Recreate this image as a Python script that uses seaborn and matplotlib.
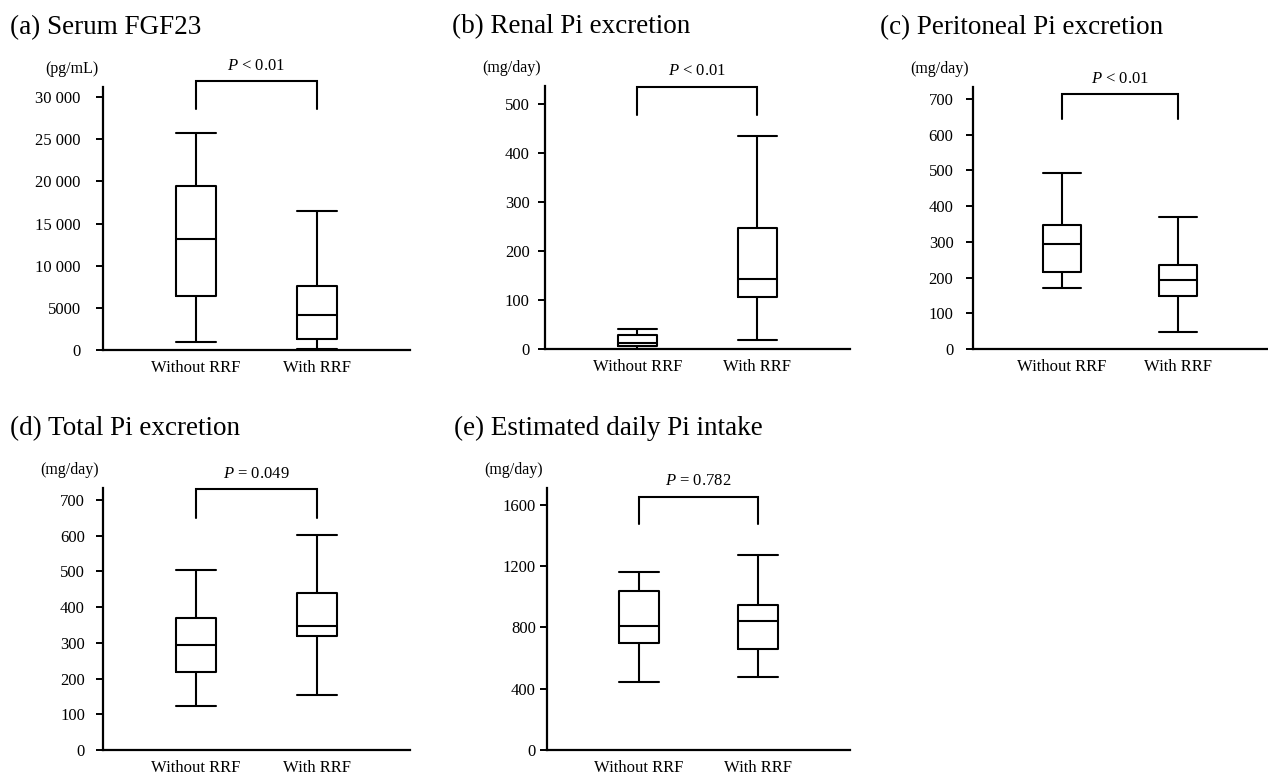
"""
Pi balance in PD patients, with vs without residual renal function (RRF).
Five box plots drawn from the five-number summaries read off the figure.
"""

import numpy as np
import pandas as pd
import matplotlib
matplotlib.use("Agg")
import matplotlib.pyplot as plt
import seaborn as sns

# -------------------------------
# 1. DATA (min, Q1, median, Q3, max)
# -------------------------------
groups = ["Without RRF", "With RRF"]

fgf23_without = [1000, 6400, 13200, 19500, 25700]
fgf23_with = [150, 1300, 4200, 7600, 16500]

renal_without = [1, 6, 12, 30, 41]
renal_with = [19, 106, 143, 248, 435]

perit_without = [171, 217, 295, 346, 492]
perit_with = [47, 149, 194, 236, 371]

total_without = [122, 218, 293, 371, 505]
total_with = [154, 319, 346, 439, 602]

intake_without = [442, 695, 807, 1040, 1162]
intake_with = [475, 657, 840, 949, 1274]

titles = ["(a) Serum FGF23", "(b) Renal Pi excretion", "(c) Peritoneal Pi excretion",
          "(d) Total Pi excretion", "(e) Estimated daily Pi intake"]
units = ["(pg/mL)", "(mg/day)", "(mg/day)", "(mg/day)", "(mg/day)"]
p_labels = [r"$P$ < 0.01", r"$P$ < 0.01", r"$P$ < 0.01", r"$P$ = 0.049", r"$P$ = 0.782"]

fgf23_ticks = [0, 5000, 10000, 15000, 20000, 25000, 30000]
fgf23_ticklabels = ["0", "5000", "10 000", "15 000", "20 000", "25 000", "30 000"]
renal_ticks = [0, 100, 200, 300, 400, 500]
perit_ticks = [0, 100, 200, 300, 400, 500, 600, 700]
total_ticks = [0, 100, 200, 300, 400, 500, 600, 700]
intake_ticks = [0, 400, 800, 1200, 1600]

# bracket (top, bottom of the drops) and y-axis top
brackets = [(31900, 28600), (536, 478), (713, 644), (730, 650), (1653, 1475)]
ymax = [31200, 537, 733, 734, 1710]

# -------------------------------
# 2. STYLE
# -------------------------------
sns.set_style("ticks")
plt.rcParams["font.family"] = ["Liberation Serif", "DejaVu Serif"]
plt.rcParams["mathtext.fontset"] = "custom"
plt.rcParams["mathtext.rm"] = "Liberation Serif"
plt.rcParams["mathtext.it"] = "Liberation Serif:italic"
for key in ["text.color", "axes.labelcolor", "xtick.color", "ytick.color", "axes.edgecolor"]:
    plt.rcParams[key] = "black"

fig = plt.figure(figsize=(12.68, 7.80), dpi=100)

# axes rectangles [left, bottom, width, height] in figure fraction
rects = [
    [0.0812, 0.5513, 0.2421, 0.3372],
    [0.4298, 0.5522, 0.2405, 0.3375],
    [0.7673, 0.5522, 0.2319, 0.3363],
    [0.0812, 0.0385, 0.2421, 0.3359],
    [0.4314, 0.0385, 0.2389, 0.3359],
]
label_pads = [11, 6, 9, 8, 3]

panels = [
    (fgf23_without, fgf23_with, fgf23_ticks, fgf23_ticklabels),
    (renal_without, renal_with, renal_ticks, [str(t) for t in renal_ticks]),
    (perit_without, perit_with, perit_ticks, [str(t) for t in perit_ticks]),
    (total_without, total_with, total_ticks, [str(t) for t in total_ticks]),
    (intake_without, intake_with, intake_ticks, [str(t) for t in intake_ticks]),
]

BOX_W = 0.33

for i, (without, with_, ticks, ticklabels) in enumerate(panels):
    ax = fig.add_axes(rects[i])
    df = pd.DataFrame({
        "group": [groups[0]] * len(without) + [groups[1]] * len(with_),
        "value": without + with_,
    })
    sns.boxplot(data=df, x="group", y="value", order=groups, ax=ax,
                whis=(0, 100), width=BOX_W, fill=False, color="black",
                linewidth=1.5, capwidths=BOX_W, showfliers=False)

    ax.set_xlim(-0.77, 1.77)
    ax.set_ylim(0, ymax[i])
    ax.set_yticks(ticks)
    ax.set_yticklabels(ticklabels)
    ax.set_xlabel("")
    ax.set_ylabel("")
    for s in ["top", "right"]:
        ax.spines[s].set_visible(False)
    for s in ["left", "bottom"]:
        ax.spines[s].set_linewidth(1.6)
    ax.tick_params(axis="y", length=5, width=1.4, labelsize=12, pad=label_pads[i])
    ax.tick_params(axis="x", length=0, labelsize=12, pad=7)

    # significance bracket
    top, drop = brackets[i]
    ax.plot([0, 0, 1, 1], [drop, top, top, drop], color="black", lw=1.5,
            clip_on=False, solid_joinstyle="miter")
    ax.annotate(p_labels[i], xy=(0.5, top), xytext=(0, 11), textcoords="offset points",
                ha="center", va="center", fontsize=12, annotation_clip=False)

    # unit label and panel title
    ax.annotate(units[i], xy=(0, 1), xycoords="axes fraction", xytext=(-3, 13),
                textcoords="offset points", ha="right", va="center", fontsize=11.5)
    ax.annotate(titles[i], xy=(0, 1), xycoords="axes fraction", xytext=(-67, 43),
                textcoords="offset points", ha="left", va="center", fontsize=19.5)

fig.savefig("out.png", dpi=100)
